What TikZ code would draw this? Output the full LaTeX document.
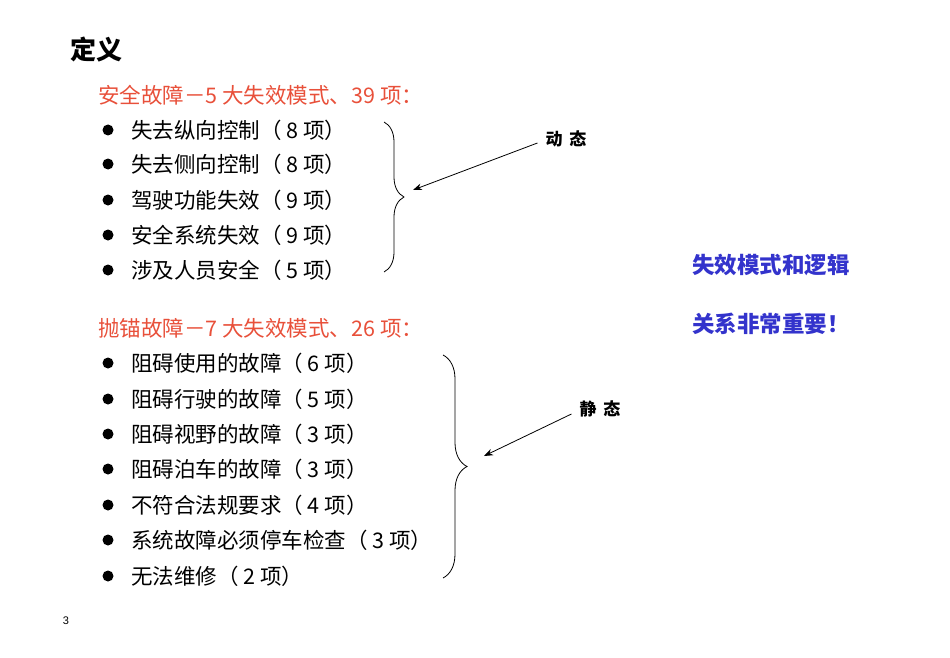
\documentclass[tikz,border=0pt]{standalone}
\usepackage{fontspec}
\setmainfont{Liberation Sans}
\newfontfamily\cjk{Noto Sans CJK SC}
\usetikzlibrary{decorations.pathreplacing,arrows.meta}
\definecolor{redt}{HTML}{E8503A}
\definecolor{bluet}{HTML}{3333CC}
\tikzset{x=1pt,y=-1pt,
 item/.style={anchor=west,inner sep=0pt,font=\cjk\fontsize{21.5}{24}\selectfont},
 head/.style={item,text=redt},
 dot/.style={circle,fill=black,inner sep=0pt,minimum size=11pt},
 lab/.style={inner sep=0pt,font=\cjk\bfseries\fontsize{17}{20}\selectfont},
 note/.style={anchor=west,inner sep=0pt,text=bluet,font=\cjk\bfseries\fontsize{22.5}{26}\selectfont},
 brc/.style={decorate,decoration={brace,amplitude=#1},thick},
 arr/.style={-{Stealth[length=9pt]},thick}}
\begin{document}
\begin{tikzpicture}
\useasboundingbox (0,0) rectangle (950,658);
\node[anchor=west,inner sep=0pt,font=\cjk\bfseries\fontsize{26}{30}\selectfont] (title) at (70,50) {定义};
\node[head] (h1) at (98,95) {安全故障－5 大失效模式、39 项：};
\foreach \t/\y [count=\i] in {失去纵向控制（ 8 项）/130,失去侧向控制（ 8 项）/164,驾驶功能失效（ 9 项）/200,安全系统失效（ 9 项）/235,涉及人员安全（ 5 项）/270}{
 \node[dot] (da\i) at (108,\y) {};
 \node[item] (a\i) at (131,\y) {\t};
}
\node[head] (h2) at (98,328) {抛锚故障－7 大失效模式、26 项：};
\foreach \t/\y [count=\i] in {阻碍使用的故障（ 6 项）/363,阻碍行驶的故障（ 5 项）/399,阻碍视野的故障（ 3 项）/434,阻碍泊车的故障（ 3 项）/469,不符合法规要求（ 4 项）/505,系统故障必须停车检查（ 3 项）/540,无法维修（ 2 项）/576}{
 \node[dot] (db\i) at (108,\y) {};
 \node[item] (b\i) at (131,\y) {\t};
}
\coordinate (t1) at (384,122); \coordinate (e1) at (384,272);
\draw[brc=20pt] (t1) -- (e1);
\coordinate (t2) at (443,355); \coordinate (e2) at (443,578);
\draw[brc=24pt] (t2) -- (e2);
\node[lab] (dyn) at (566,139) {动\,\ 态};
\node[lab] (sta) at (600,409) {静\,\ 态};
\coordinate (p1) at (413,190); \coordinate (p2) at (484,456);
\draw[arr] (dyn.west) ++(-8,4) -- (p1);
\draw[arr] (sta.west) ++(-8,5) -- (p2);
\node[note] (n1) at (692,265) {失效模式和逻辑};
\node[note] (n2) at (692,324) {关系非常重要！};
\node[inner sep=0pt,font=\fontsize{11}{13}\selectfont] (pg) at (66,621) {3};
\end{tikzpicture}
\end{document}
